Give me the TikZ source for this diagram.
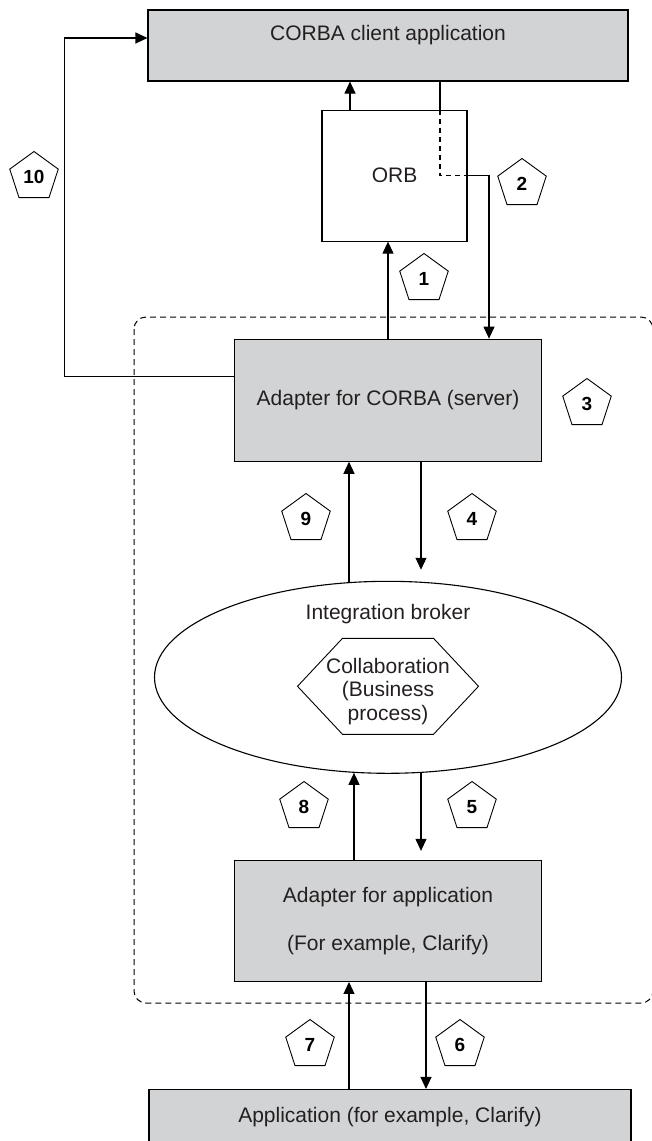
\documentclass[tikz,border=0pt]{standalone}
\usepackage{fontspec}
\setmainfont{Liberation Sans}
\usepackage{tikz}
\usetikzlibrary{arrows.meta, calc, positioning, shapes.geometric}
\definecolor{boxgray}{RGB}{209,211,212}
\definecolor{inkgray}{RGB}{35,31,32}

\begin{document}
\begin{tikzpicture}[
      x=1pt, y=-1pt,
      font=\fontsize{21}{25}\selectfont,
      box/.style={draw, fill=boxgray, text=inkgray, align=center, inner sep=0pt, line width=1.1pt},
      plain/.style={draw, text=inkgray, align=center, inner sep=0pt, line width=1.1pt},
      arr/.style={-{Triangle[length=12pt,width=11pt]}, line width=1.1pt},
      grp/.style={dash pattern=on 6pt off 4pt, rounded corners=12pt, line width=1pt},
      stepmark/.style={draw, fill=white, regular polygon, regular polygon sides=5,
        minimum size=51pt, inner sep=0pt, line width=0.9pt,
        font=\fontsize{19}{21}\selectfont\bfseries},
      lab/.style={inner sep=0pt, text=inkgray, align=center}
    ]
      \useasboundingbox (0,0) rectangle (651,1141);

% Integration broker group
      \draw[grp] (134,317) rectangle (653,1003);

% Main chain
      \node[box, minimum width=480pt, minimum height=71pt, text height=15pt, text depth=26pt] (client) at (388,45.5) {CORBA client application};
      \node[plain, minimum width=145pt, minimum height=131pt, below=28pt of client, xshift=6.5pt] (orb) {ORB};
      \node[box, minimum width=307pt, minimum height=122pt, below=97pt of orb, xshift=-6.5pt] (adcorba) {Adapter for CORBA (server)};
      \node[plain, ellipse, minimum width=467pt, minimum height=192pt, below=119pt of adcorba] (broker) {};
      \node[lab, below=23pt of broker.north] (brokerlab) {Integration broker};
      \node[box, minimum width=307pt, minimum height=121pt, below=86pt of broker] (adapp) {Adapter for application\\[23pt](For example, Clarify)};
      \node[box, minimum width=482pt, minimum height=56pt, below=107pt of adapp, xshift=2pt] (app) {Application (for example, Clarify)};

% Collaboration
      \coordinate (hexc) at ($(broker.center)+(0,9)$);
      \draw[line width=0.9pt] ($(hexc)+(-90.5,0)$) -- ++(45,-48) -- ++(91,0) -- ++(45,48) -- ++(-45,48) -- ++(-91,0) -- cycle;
      \node[lab, font=\fontsize{21}{23.5}\selectfont] (collab) at ($(hexc)+(0,5)$) {Collaboration\\(Business\\process)};

% Arrows
      \draw[arr] ($(orb.north)+(-44.5,0)$) -- ($(orb.north |- client.south)+(-44.5,0)$);
      \draw[arr] (adcorba.north) -- (adcorba.north |- orb.south);

      \coordinate (c2) at ($(client.south)+(52,0)$);
      \draw[line width=1.1pt] (c2) -- (c2 |- orb.north);
      \draw[line width=1.1pt, dash pattern=on 5pt off 4pt] (c2 |- orb.north) -- (c2 |- orb.east) -- (orb.east);
      \draw[arr] (orb.east) -| ($(adcorba.north)+(101,0)$);

      \draw[arr] ($(adcorba.west)+(0,-24)$) -| ($(client.west)+(-83,-7.5)$) -- ($(client.west)+(0,-7.5)$);

      \draw[arr] ($(broker.north)+(-39,1)$) -- ($(adcorba.south)+(-39,0)$);
      \draw[arr, shorten >=11pt] ($(adcorba.south)+(33,0)$) -- ($(broker.north)+(33,0)$);

      \draw[arr] ($(adapp.north)+(-34,0)$) -- ($(broker.south)+(-34,-1)$);
      \draw[arr, shorten >=9pt] ($(broker.south)+(33,-1)$) -- ($(adapp.north)+(33,0)$);

      \draw[arr] ($(app.north)+(-41,0)$) -- ($(adapp.south)+(-39,0)$);
      \draw[arr] ($(adapp.south)+(38,0)$) -- ($(app.north)+(36,0)$);

% Step numbers
      \node[stepmark] (s1) at (424,279) {1};
      \node[stepmark] (s2) at (522,184) {2};
      \node[stepmark] (s3) at (587,404) {3};
      \node[stepmark] (s4) at (472,519) {4};
      \node[stepmark] (s5) at (472,807) {5};
      \node[stepmark] (s6) at (460,1045) {6};
      \node[stepmark] (s7) at (310,1045) {7};
      \node[stepmark] (s8) at (304,807) {8};
      \node[stepmark] (s9) at (306,519) {9};
      \node[stepmark] (s10) at (34,177) {10};
    \end{tikzpicture}
\end{document}
